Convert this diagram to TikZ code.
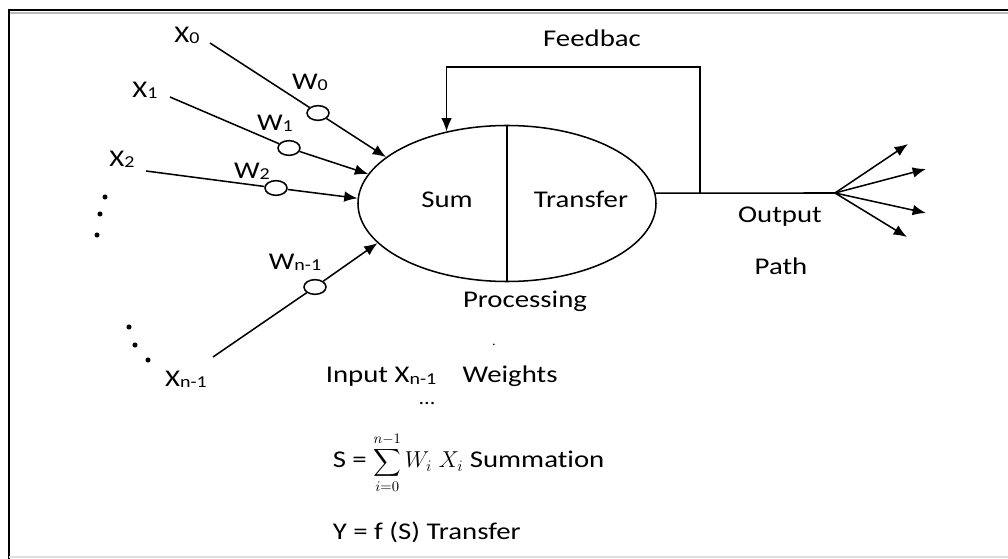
\documentclass[tikz,border=0pt]{standalone}
\usepackage{amsmath}
\usepackage{fontspec}
\setmainfont{Carlito}[FakeStretch=1.2, Ligatures=NoCommon]
\usetikzlibrary{shapes.geometric,arrows.meta}
% small index after a letter, as in X0 or Wn-1
\newcommand\subix[1]{\raisebox{-0.1ex}{\fontsize{12.5}{12.5}\selectfont #1}}
\begin{document}
\begin{tikzpicture}[x=0.75pt,y=-0.75pt,
  line width=1.15pt,
  lab/.style={font=\fontsize{18}{21}\selectfont, inner sep=0pt},
  arr/.style={-{Latex[length=10pt,width=8pt]}},
  wt/.style={draw, ellipse, fill=white, minimum width=16.5pt, minimum height=11pt, inner sep=0pt},
  bigdot/.style={fill=black}]
\useasboundingbox (0,0) rectangle (1008,559);
\fill[white] (0,0) rectangle (1008,559);

% frame
\draw[black, line width=1.5pt] (9,10) -- (1008,10);
\draw[gray!55, line width=1.5pt] (9,13) -- (1008,13);
\draw[black, line width=1.6pt] (9,9.3) -- (9,559);
\draw[gray!25, line width=1.5pt] (9,557.5) -- (1008,557.5);

% processing element
\node[draw, ellipse, minimum width=223.5pt, minimum height=117pt, inner sep=0pt] (proc) at (507,203.5) {};
\draw (proc.north) -- (proc.south);
\node[lab] (sum) at (447,200) {Sum};
\node[lab] (trans) at (581,199) {Transfer};
\node[lab, anchor=base] (procl) at (525,308) {Processing};

% inputs and weights
\coordinate (s0) at (210,43);
\coordinate (s1) at (170,97);
\coordinate (s2) at (146,171);
\coordinate (sn) at (213,357);
\node[wt] (c0) at (318,113) {};
\node[wt] (c1) at (289,148) {};
\node[wt] (c2) at (276,188) {};
\node[wt] (cn) at (315,287) {};
\draw (s0) -- (c0);
\draw (s1) -- (c1);
\draw (s2) -- (c2);
\draw (sn) -- (cn);
\draw[arr] (c0) -- (proc.159.8);
\draw[arr] (c1) -- (proc.168.8);
\draw[arr] (c2) -- (proc.178.5);
\draw[arr] (cn) -- (proc.197.5);

\node[lab] (x0) at (187,35) {X\subix{0}};
\node[lab] (x1) at (145,90) {X\subix{1}};
\node[lab] (x2) at (122,159) {X\subix{2}};
\node[lab] (xn) at (186,379) {X\subix{n-1}};
\node[lab] (w0) at (310,82) {W\subix{0}};
\node[lab] (w1) at (275,123) {W\subix{1}};
\node[lab] (w2) at (252,171) {W\subix{2}};
\node[lab] (wn) at (295,262) {W\subix{n-1}};

% ellipsis dots between the inputs
\foreach \p in {(105,197),(100,214),(97,235),(129,327),(135,345),(148,360)}
  \fill[bigdot] \p circle (1.9pt);

% output path and feedback loop
\coordinate (fan) at (835,193);
\coordinate (outj) at (700,193);
\coordinate (fbtop) at (0,67);
\draw (proc.4) -- (fan);
\draw[arr] (outj) |- (fbtop -| proc.130) -- (proc.130);
\node[lab, anchor=base] (fbl) at (592,47) {Feedbac};
\coordinate (t1) at (908,144);
\coordinate (t2) at (926,169);
\coordinate (t3) at (926,213);
\coordinate (t4) at (907,237);
\foreach \t in {t1,t2,t3,t4}
  \draw[arr] (fan) -- (\t);
\node[lab, anchor=base] (outl) at (780,223) {Output};
\node[lab, anchor=base] (pathl) at (781,275) {Path};

% equations below
\node[lab] (dot) at (494,345) {\fontsize{9}{9}\selectfont .};
\node[lab, anchor=base west] (inw) at (325,383) {Input X\subix{n-1}\hspace{1.1em}Weights};
\node[lab] (ell) at (427,404) {\fontsize{14}{14}\selectfont ...};
\node[lab, anchor=base west] (sumeq) at (332,468)
  {S = {\fontsize{15}{15}\selectfont$\displaystyle\sum_{i=0}^{n-1}$}$\,W_{i}\; X_{i}$ Summation};
\node[lab, anchor=base west] (treq) at (332,540) {Y = f (S) Transfer};
\end{tikzpicture}
\end{document}
